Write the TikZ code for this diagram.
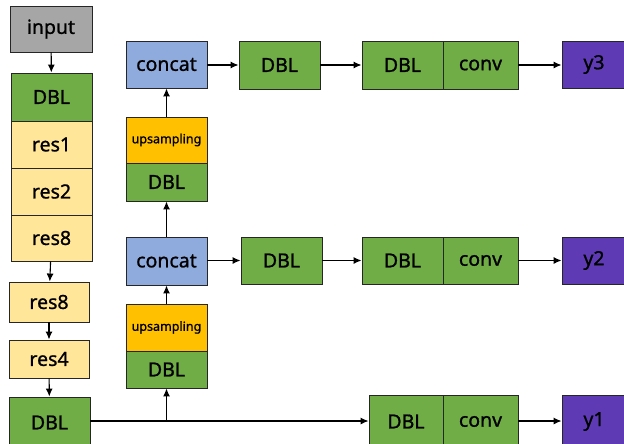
\documentclass[tikz,border=0pt]{standalone}
\usepackage{fontspec}
\setmainfont{Noto Sans}[FakeBold=1.2]
\newfontfamily\lblfont{Noto Sans}[FakeBold=1.0]
\usetikzlibrary{arrows.meta}
\definecolor{cgray}{HTML}{A6A6A6}
\definecolor{cgreen}{HTML}{70AD47}
\definecolor{cres}{HTML}{FFE699}
\definecolor{cup}{HTML}{FFC000}
\definecolor{cconcat}{HTML}{8FAADC}
\definecolor{cpurple}{HTML}{5E3BB5}
\tikzset{
  blk/.style={draw=black!85, line width=0.9pt, inner sep=0pt, font=\lblfont\bfseries\fontsize{19.5}{19.5}\selectfont},
  gray box/.style={blk, fill=cgray},
  dbl box/.style={blk, fill=cgreen},
  res box/.style={blk, fill=cres},
  up box/.style={blk, fill=cup, font=\lblfont\bfseries\fontsize{12.5}{12.5}\selectfont},
  cat box/.style={blk, fill=cconcat},
  out box/.style={blk, fill=cpurple},
  conn/.style={draw=black, line width=1.1pt, -{Latex[length=8pt,width=7pt]}},
  plain/.style={draw=black, line width=1.1pt}
}
\newcommand{\bx}[7]{\node[#1, minimum width=#5pt-#4pt, minimum height=#7pt-#6pt] (#2) at ({(#4+#5)/2},{(#6+#7)/2}) {#3};}
\begin{document}
\begin{tikzpicture}[x=1pt,y=-1pt]
\useasboundingbox (0,0) rectangle (624,444);
% left backbone
\bx{gray box}{input}{input}{10}{92}{6}{52}
\bx{dbl box}{dbla}{DBL}{11}{92}{73}{121}
\bx{res box}{resa}{res1}{11}{92}{121}{168}
\bx{res box}{resb}{res2}{11}{92}{168}{215}
\bx{res box}{resc}{res8}{11}{92}{215}{261}
\bx{res box}{resd}{res8}{9}{89}{282}{322}
\bx{res box}{rese}{res4}{9}{89}{340}{378}
\bx{dbl box}{dblb}{DBL}{9}{90}{397}{448}
% middle column
\bx{up box}{upa}{upsampling}{126}{207}{304}{351}
\bx{dbl box}{dblua}{DBL}{126}{207}{351}{388}
\bx{cat box}{cata}{concat}{126}{207}{237}{285}
\bx{up box}{upb}{upsampling}{126}{207}{117}{163}
\bx{dbl box}{dblub}{DBL}{126}{207}{163}{201}
\bx{cat box}{catb}{concat}{126}{207}{41}{88}
% top row
\bx{dbl box}{dtop}{DBL}{239}{320}{41}{89}
\bx{dbl box}{dctop}{DBL}{362}{443}{41}{89}
\bx{dbl box}{cvtop}{conv}{443}{518}{41}{89}
\bx{out box}{ythree}{y3}{562}{626}{41}{88}
% middle row
\bx{dbl box}{dmid}{DBL}{241}{322}{237}{284}
\bx{dbl box}{dcmid}{DBL}{362}{443}{237}{284}
\bx{dbl box}{cvmid}{conv}{443}{518}{237}{284}
\bx{out box}{ytwo}{y2}{562}{626}{237}{284}
% bottom row
\bx{dbl box}{dcbot}{DBL}{369}{443}{395}{448}
\bx{dbl box}{cvbot}{conv}{443}{518}{395}{448}
\bx{out box}{yone}{y1}{562}{626}{395}{448}
% connectors
\draw[conn] (input) -- (dbla);
\draw[conn] (resc) -- (resd);
\draw[conn] (resd) -- (rese);
\draw[conn] (rese) -- (dblb);
\coordinate (br) at (166.5,421);
\draw[conn] (dblb.east |- br) -- (dcbot.west |- br);
\draw[conn] (br) -- (dblua.south);
\draw[conn] (upa) -- (cata);
\draw[conn] (cata) -- (dblub);
\draw[conn] (upb) -- (catb);
\draw[conn] (catb.east |- dtop) -- (dtop.west);
\draw[conn] (dtop) -- (dctop);
\draw[conn] (cvtop.east) -- (ythree.west |- cvtop);
\draw[conn] (cata.east |- dmid) -- (dmid.west);
\draw[conn] (dmid) -- (dcmid);
\draw[conn] (cvmid.east) -- (ytwo.west |- cvmid);
\draw[conn] (cvbot.east |- br) -- (yone.west |- br);
\end{tikzpicture}
\end{document}
